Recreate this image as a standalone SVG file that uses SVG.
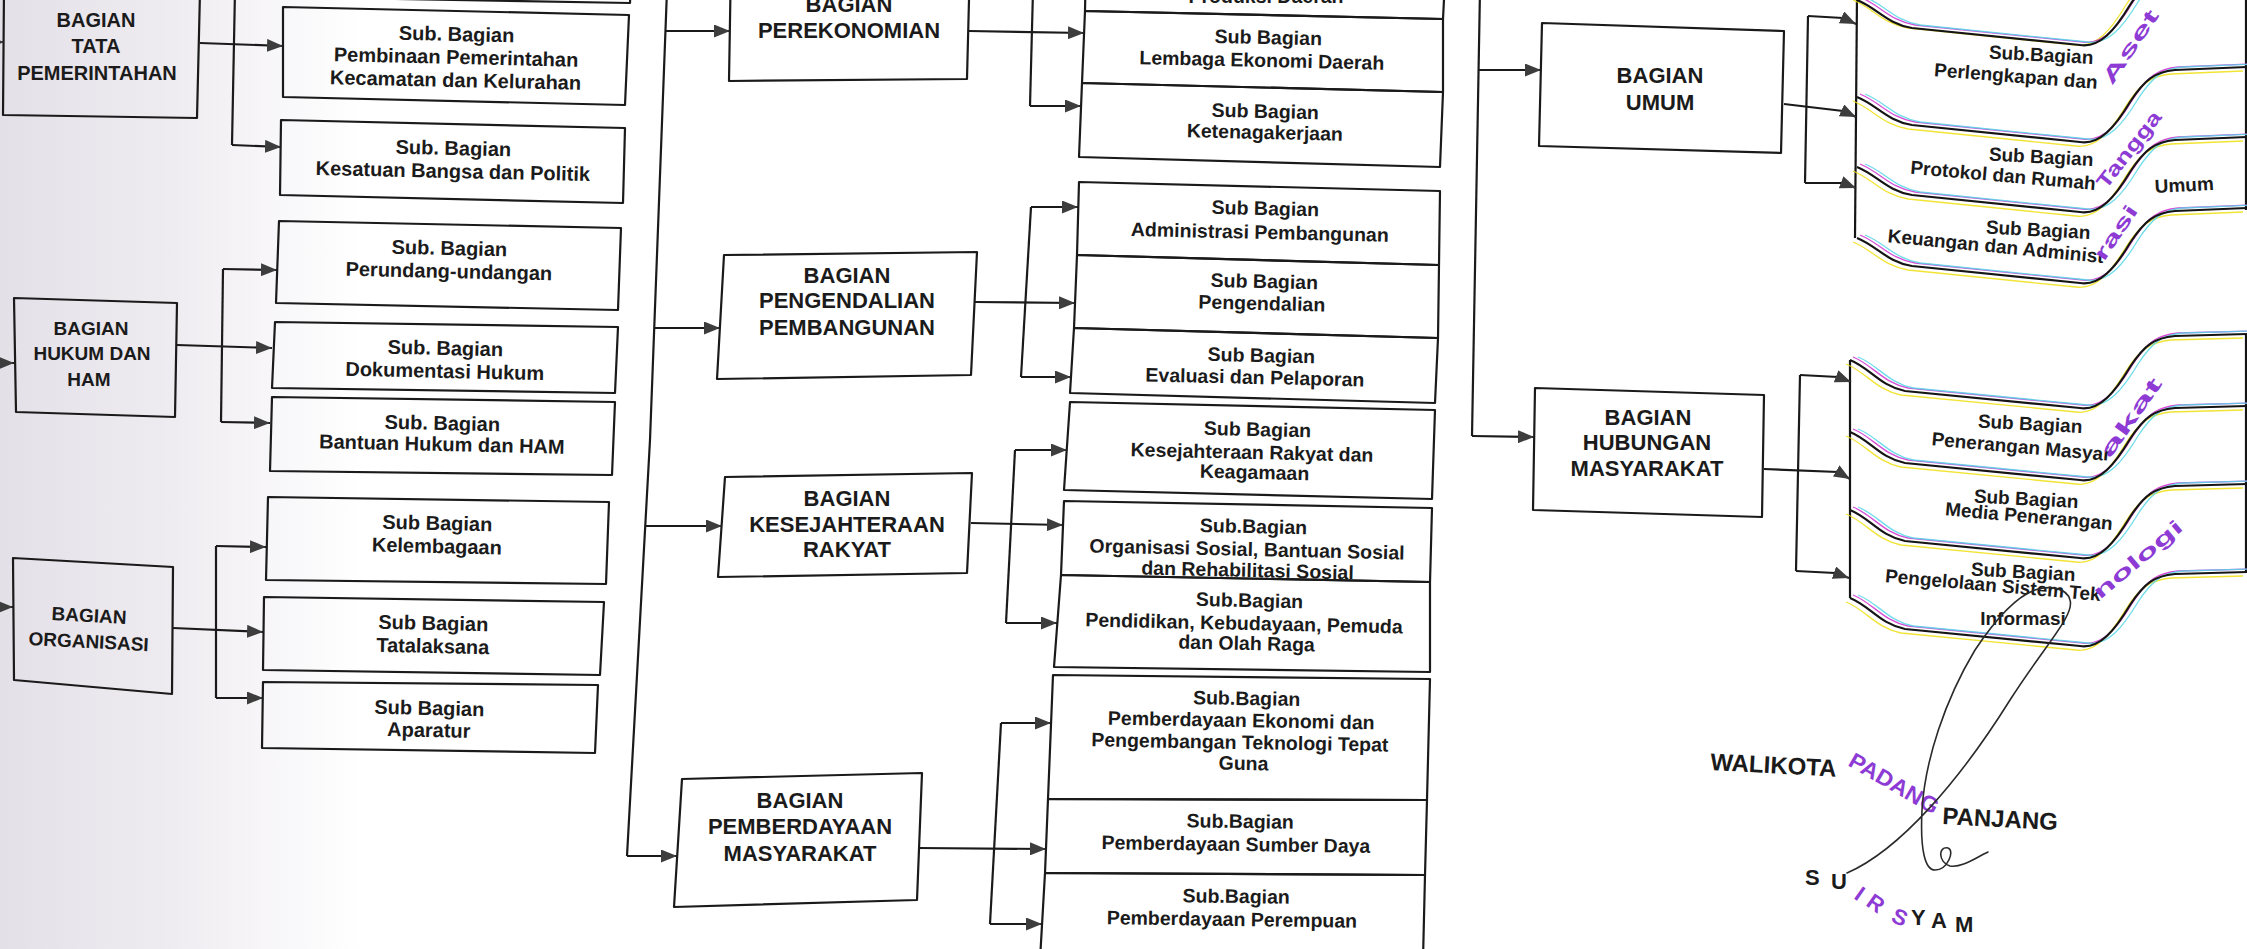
<svg xmlns="http://www.w3.org/2000/svg" width="2247" height="949" viewBox="0 0 2247 949">
<style>
.box{fill:none;stroke:#1a1a1a;stroke-width:2.2;stroke-linejoin:round}
.ln{fill:none;stroke:#1a1a1a;stroke-width:2.2}
.ar{marker-end:url(#ah)}
.t{font-family:"Liberation Sans",Arial,sans-serif;font-weight:bold;fill:#1b1b1b;text-anchor:middle}
.te{text-anchor:end}
.ts{text-anchor:start}
.f19{font-size:19px}.f195{font-size:19.5px}.f20{font-size:20px}.f22{font-size:22px}.f24{font-size:24px}
.dist{fill:#8d3bd4}
.wv{fill:none;stroke:#151515;stroke-width:2.2}
.cy{fill:none;stroke:#55d6e6;stroke-width:1.3;opacity:0.85}
.mg{fill:none;stroke:#cf2fcf;stroke-width:1.3;opacity:0.85}
.yl{fill:none;stroke:#f0df10;stroke-width:1.3;opacity:0.85}
.sig{fill:none;stroke:#2a2a2a;stroke-width:1.6;stroke-linecap:round}
</style>
<defs>
<marker id="ah" viewBox="0 0 16 13" refX="16" refY="6.5" markerWidth="16" markerHeight="13" markerUnits="userSpaceOnUse" orient="auto"><path d="M0,0 L16,6.5 L0,13 z" fill="#3d3d3d"/></marker>
<linearGradient id="shade" x1="0" y1="0" x2="1" y2="0"><stop offset="0" stop-color="#e4e0e8"/><stop offset="0.45" stop-color="#eeebf0"/><stop offset="1" stop-color="#ffffff"/></linearGradient>
<path id="wu" d="M1857,0 C1877,8 1887,24 1912,28 L2080,45 C2100,48 2115,30 2130,5 C2145,-18 2155,-25 2175,-27 L2247,-30"/>
<path id="wh" d="M1850,0 C1870,8 1880,26 1905,31 L2080,48 C2100,51 2115,32 2130,7 C2145,-16 2155,-22 2175,-24 L2247,-26"/>
</defs>
<rect x="0" y="0" width="2247" height="949" fill="#ffffff"/>
<rect x="0" y="0" width="360" height="949" fill="url(#shade)"/>

<!-- Column A -->
<g id="bagian-tata-pemerintahan">
<polygon class="box" points="4,-12 200,-8 197,118 3,115"/>
<text class="t f20" x="96" y="27">BAGIAN</text>
<text class="t f20" x="96" y="53">TATA</text>
<text class="t f20" x="97" y="80">PEMERINTAHAN</text>
</g>
<g id="bagian-hukum-ham">
<polygon class="box" points="14,298 177,303 175,417 16,412"/>
<text class="t f19" x="91" y="335">BAGIAN</text>
<text class="t f19" x="92" y="360">HUKUM DAN</text>
<text class="t f19" x="89" y="386">HAM</text>
</g>
<g id="bagian-organisasi">
<polygon class="box" points="13,558 173,567 172,694 14,680"/>
<g transform="rotate(3 88 635)">
<text class="t f19" x="88" y="622">BAGIAN</text>
<text class="t f19" x="89" y="648">ORGANISASI</text>
</g>
</g>

<!-- Column B -->
<g id="sub-top-b"><polygon class="box" points="288,-60 632,-52 630,3 286,-3"/></g>
<g id="sub-pembinaan">
<polygon class="box" points="283,7 629,15 625,105 283,97"/>
<g transform="rotate(1.3 456 60)">
<text class="t f20" x="456" y="41">Sub. Bagian</text>
<text class="t f20" x="456" y="64">Pembinaan Pemerintahan</text>
<text class="t f20" x="456" y="87">Kecamatan dan Kelurahan</text>
</g>
</g>
<g id="sub-kesatuan">
<polygon class="box" points="281,120 625,128 623,203 280,195"/>
<g transform="rotate(1.3 453 165)">
<text class="t f20" x="453" y="155">Sub. Bagian</text>
<text class="t f20" x="453" y="178">Kesatuan Bangsa dan Politik</text>
</g>
</g>
<g id="sub-perundang">
<polygon class="box" points="279,221 621,228 618,310 276,303"/>
<g transform="rotate(1.3 449 265)">
<text class="t f20" x="449" y="255">Sub. Bagian</text>
<text class="t f20" x="449" y="278">Perundang-undangan</text>
</g>
</g>
<g id="sub-dokumentasi">
<polygon class="box" points="275,322 618,327 615,393 272,388"/>
<g transform="rotate(1.3 445 362)">
<text class="t f20" x="445" y="355">Sub. Bagian</text>
<text class="t f20" x="445" y="378">Dokumentasi Hukum</text>
</g>
</g>
<g id="sub-bantuan">
<polygon class="box" points="272,397 615,402 612,475 270,471"/>
<g transform="rotate(1.3 442 438)">
<text class="t f20" x="442" y="430">Sub. Bagian</text>
<text class="t f20" x="442" y="451">Bantuan Hukum dan HAM</text>
</g>
</g>
<g id="sub-kelembagaan">
<polygon class="box" points="268,497 609,502 606,584 266,580"/>
<g transform="rotate(1.3 437 540)">
<text class="t f20" x="437" y="530">Sub Bagian</text>
<text class="t f20" x="437" y="553">Kelembagaan</text>
</g>
</g>
<g id="sub-tatalaksana">
<polygon class="box" points="264,597 604,602 600,675 263,670"/>
<g transform="rotate(1.3 433 640)">
<text class="t f20" x="433" y="630">Sub Bagian</text>
<text class="t f20" x="433" y="653">Tatalaksana</text>
</g>
</g>
<g id="sub-aparatur">
<polygon class="box" points="263,682 598,685 595,753 262,748"/>
<g transform="rotate(1.3 429 722)">
<text class="t f20" x="429" y="715">Sub Bagian</text>
<text class="t f20" x="429" y="737">Aparatur</text>
</g>
</g>

<!-- Column C -->
<g id="bagian-perekonomian">
<polygon class="box" points="731,-40 970,-40 967,79 729,81"/>
<text class="t f22" x="849" y="12">BAGIAN</text>
<text class="t f22" x="849" y="38">PEREKONOMIAN</text>
</g>
<g id="bagian-pengendalian">
<polygon class="box" points="724,255 977,252 971,375 717,379"/>
<text class="t f22" x="847" y="283">BAGIAN</text>
<text class="t f22" x="847" y="308">PENGENDALIAN</text>
<text class="t f22" x="847" y="335">PEMBANGUNAN</text>
</g>
<g id="bagian-kesejahteraan">
<polygon class="box" points="725,477 972,473 967,573 718,577"/>
<text class="t f22" x="847" y="506">BAGIAN</text>
<text class="t f22" x="847" y="532">KESEJAHTERAAN</text>
<text class="t f22" x="847" y="557">RAKYAT</text>
</g>
<g id="bagian-pemberdayaan">
<polygon class="box" points="682,779 922,773 917,900 674,907"/>
<text class="t f22" x="800" y="808">BAGIAN</text>
<text class="t f22" x="800" y="834">PEMBERDAYAAN</text>
<text class="t f22" x="800" y="861">MASYARAKAT</text>
</g>

<!-- Column D -->
<g id="sub-produksi">
<polygon class="box" points="1086,-40 1446,-40 1443,19 1085,11"/>
<text class="t f195" x="1266" y="3">Produksi Daerah</text>
</g>
<g id="sub-lembaga-ekonomi">
<polygon class="box" points="1085,11 1443,19 1443,92 1082,83"/>
<g transform="rotate(1.3 1264 52)">
<text class="t f195" x="1268" y="44">Sub Bagian</text>
<text class="t f195" x="1262" y="67">Lembaga Ekonomi Daerah</text>
</g>
</g>
<g id="sub-ketenagakerjaan">
<polygon class="box" points="1082,83 1443,92 1440,167 1079,157"/>
<g transform="rotate(1.3 1264 125)">
<text class="t f195" x="1265" y="118">Sub Bagian</text>
<text class="t f195" x="1265" y="139">Ketenagakerjaan</text>
</g>
</g>
<g id="sub-administrasi">
<polygon class="box" points="1079,182 1440,191 1439,265 1077,255"/>
<g transform="rotate(1.3 1262 225)">
<text class="t f195" x="1265" y="215">Sub Bagian</text>
<text class="t f195" x="1260" y="239">Administrasi Pembangunan</text>
</g>
</g>
<g id="sub-pengendalian">
<polygon class="box" points="1077,255 1439,265 1438,338 1074,328"/>
<g transform="rotate(1.3 1262 298)">
<text class="t f195" x="1264" y="288">Sub Bagian</text>
<text class="t f195" x="1262" y="310">Pengendalian</text>
</g>
</g>
<g id="sub-evaluasi">
<polygon class="box" points="1074,328 1438,338 1435,403 1070,393"/>
<g transform="rotate(1.3 1258 372)">
<text class="t f195" x="1261" y="362">Sub Bagian</text>
<text class="t f195" x="1255" y="384">Evaluasi dan Pelaporan</text>
</g>
</g>
<g id="sub-kesra-keagamaan">
<polygon class="box" points="1070,402 1435,410 1432,499 1064,490"/>
<g transform="rotate(1.3 1254 452)">
<text class="t f195" x="1257" y="436">Sub Bagian</text>
<text class="t f195" x="1252" y="459">Kesejahteraan Rakyat dan</text>
<text class="t f195" x="1255" y="479">Keagamaan</text>
</g>
</g>
<g id="sub-organisasi-sosial">
<polygon class="box" points="1064,501 1432,508 1430,582 1061,575"/>
<g transform="rotate(1.3 1249 550)">
<text class="t f195" x="1253" y="533">Sub.Bagian</text>
<text class="t f195" x="1247" y="556">Organisasi Sosial, Bantuan Sosial</text>
<text class="t f195" x="1248" y="577">dan Rehabilitasi Sosial</text>
</g>
</g>
<g id="sub-pendidikan">
<polygon class="box" points="1061,575 1430,582 1430,672 1054,667"/>
<g transform="rotate(1.3 1246 625)">
<text class="t f195" x="1249" y="607">Sub.Bagian</text>
<text class="t f195" x="1244" y="630">Pendidikan, Kebudayaan, Pemuda</text>
<text class="t f195" x="1247" y="650">dan Olah Raga</text>
</g>
</g>
<g id="sub-ekonomi-ttg">
<polygon class="box" points="1053,675 1430,679 1427,800 1048,799"/>
<g transform="rotate(1 1242 735)">
<text class="t f195" x="1246" y="705">Sub.Bagian</text>
<text class="t f195" x="1241" y="727">Pemberdayaan Ekonomi dan</text>
<text class="t f195" x="1240" y="749">Pengembangan Teknologi Tepat</text>
<text class="t f195" x="1244" y="770">Guna</text>
</g>
</g>
<g id="sub-sumber-daya">
<polygon class="box" points="1048,799 1427,800 1425,875 1045,873"/>
<g transform="rotate(0.8 1238 840)">
<text class="t f195" x="1240" y="828">Sub.Bagian</text>
<text class="t f195" x="1236" y="851">Pemberdayaan Sumber Daya</text>
</g>
</g>
<g id="sub-perempuan">
<polygon class="box" points="1045,873 1425,875 1423,960 1040,960"/>
<g transform="rotate(0.8 1234 912)">
<text class="t f195" x="1236" y="903">Sub.Bagian</text>
<text class="t f195" x="1232" y="926">Pemberdayaan Perempuan</text>
</g>
</g>

<!-- Right column -->
<g id="bagian-umum">
<polygon class="box" points="1542,23 1784,31 1781,153 1539,146"/>
<text class="t f22" x="1660" y="83">BAGIAN</text>
<text class="t f22" x="1660" y="110">UMUM</text>
</g>
<g id="bagian-humas">
<polygon class="box" points="1535,388 1764,395 1762,517 1533,510"/>
<text class="t f22" x="1648" y="425">BAGIAN</text>
<text class="t f22" x="1647" y="450">HUBUNGAN</text>
<text class="t f22" x="1647" y="476">MASYARAKAT</text>
</g>

<g id="umum-subs-frame">
<path class="wv" d="M1857,-5 L1855,238"/>
<path class="wv" d="M2246,-5 L2246,210"/>
</g>
<g id="sub-perlengkapan">
<use href="#wu" y="0" class="yl" x="-4"/><use href="#wu" y="-3" class="mg" x="3"/><use href="#wu" y="-3" class="cy" x="8"/>
<use href="#wu" y="0" class="wv"/>
<text class="t te f19" x="2093" y="64" transform="rotate(3 2093 64)">Sub.Bagian</text>
<text class="t te f19" x="2097" y="89" transform="rotate(4.5 2097 89)">Perlengkapan dan</text>
<text class="t ts f20 dist" x="2112" y="86" transform="rotate(-56 2112 86)" textLength="85" lengthAdjust="spacingAndGlyphs">Aset</text>
</g>
<g id="sub-protokol">
<use href="#wu" y="101" class="yl" x="-4"/><use href="#wu" y="94" class="mg" x="3"/><use href="#wu" y="94" class="cy" x="8"/>
<use href="#wu" y="97" class="wv"/>
<text class="t te f19" x="2093" y="166" transform="rotate(3 2093 166)">Sub Bagian</text>
<text class="t te f19" x="2095" y="190" transform="rotate(5 2095 190)">Protokol dan Rumah</text>
<text class="t ts f20 dist" x="2106" y="190" transform="rotate(-52 2106 190)" textLength="92" lengthAdjust="spacingAndGlyphs">Tangga</text>
</g>
<g id="sub-keuangan">
<use href="#wu" y="171" class="yl" x="-4"/><use href="#wu" y="164" class="mg" x="3"/><use href="#wu" y="164" class="cy" x="8"/>
<use href="#wu" y="167" class="wv"/>
<text class="t te f19" x="2090" y="239" transform="rotate(3 2090 239)">Sub Bagian</text>
<text class="t te f19" x="2103" y="263" transform="rotate(5.5 2103 263)">Keuangan dan Administ</text>
<text class="t ts f20 dist" x="2104" y="262" transform="rotate(-56 2104 262)" textLength="62" lengthAdjust="spacingAndGlyphs">rasi</text>
<text class="t ts f19" x="2155" y="193" transform="rotate(-3 2155 193)">Umum</text>
<use href="#wu" y="242" class="yl" x="-4"/><use href="#wu" y="235" class="mg" x="3"/><use href="#wu" y="235" class="cy" x="8"/>
<use href="#wu" y="238" class="wv"/>
</g>

<g id="humas-subs-frame">
<path class="wv" d="M1850,360 L1850,598"/>
<path class="wv" d="M2246,334 L2246,572"/>
</g>
<g id="sub-penerangan">
<use href="#wh" y="364" class="yl" x="-4"/><use href="#wh" y="357" class="mg" x="3"/><use href="#wh" y="357" class="cy" x="8"/>
<use href="#wh" y="360" class="wv"/>
<text class="t te f19" x="2082" y="433" transform="rotate(3 2082 433)">Sub Bagian</text>
<text class="t te f19" x="2110" y="461" transform="rotate(5 2110 461)">Penerangan Masyar</text>
<text class="t ts f20 dist" x="2110" y="459" transform="rotate(-55 2110 459)" textLength="92" lengthAdjust="spacingAndGlyphs">akat</text>
</g>
<g id="sub-media">
<use href="#wh" y="436" class="yl" x="-4"/><use href="#wh" y="429" class="mg" x="3"/><use href="#wh" y="429" class="cy" x="8"/>
<use href="#wh" y="432" class="wv"/>
<text class="t te f19" x="2078" y="508" transform="rotate(3 2078 508)">Sub Bagian</text>
<text class="t te f19" x="2112" y="530" transform="rotate(5 2112 530)">Media Penerangan</text>
</g>
<g id="sub-pengelolaan-sti">
<use href="#wh" y="514" class="yl" x="-4"/><use href="#wh" y="507" class="mg" x="3"/><use href="#wh" y="507" class="cy" x="8"/>
<use href="#wh" y="510" class="wv"/>
<text class="t te f19" x="2075" y="581" transform="rotate(3 2075 581)">Sub Bagian</text>
<text class="t te f19" x="2100" y="601" transform="rotate(5 2100 601)">Pengelolaan Sistem Tek</text>
<text class="t ts f20 dist" x="2100" y="600" transform="rotate(-40 2100 600)" textLength="110" lengthAdjust="spacingAndGlyphs">nologi</text>
<text class="t f19" x="2023" y="625">Informasi</text>
<use href="#wh" y="602" class="yl" x="-4"/><use href="#wh" y="595" class="mg" x="3"/><use href="#wh" y="595" class="cy" x="8"/>
<use href="#wh" y="598" class="wv"/>
</g>

<!-- Connectors -->
<g id="connectors">
<path class="ln ar" d="M-30,42 L4,42"/>
<path class="ln ar" d="M-30,363 L14,363"/>
<path class="ln ar" d="M-30,607 L13,607"/>

<path class="ln ar" d="M200,43 L283,46"/>
<path class="ln" d="M235,-10 L232,145"/>
<path class="ln ar" d="M232,145 L281,147"/>

<path class="ln ar" d="M177,345 L272,348"/>
<path class="ln" d="M223,269 L221,422"/>
<path class="ln ar" d="M223,269 L277,270"/>
<path class="ln ar" d="M221,422 L270,423"/>

<path class="ln ar" d="M173,628 L263,632"/>
<path class="ln" d="M216,546 L216,698"/>
<path class="ln ar" d="M216,546 L266,547"/>
<path class="ln ar" d="M216,698 L263,698"/>

<path class="ln" d="M667,-10 L650,440 L627,856"/>
<path class="ln ar" d="M666,31 L730,31"/>
<path class="ln ar" d="M654,328 L720,328"/>
<path class="ln ar" d="M645,526 L722,526"/>
<path class="ln ar" d="M627,856 L677,856"/>

<path class="ln ar" d="M969,31 L1084,33"/>
<path class="ln" d="M1033,-10 L1030,106"/>
<path class="ln ar" d="M1030,106 L1081,106"/>

<path class="ln ar" d="M975,302 L1075,303"/>
<path class="ln" d="M1031,207 L1021,377"/>
<path class="ln ar" d="M1031,207 L1078,207"/>
<path class="ln ar" d="M1021,377 L1071,377"/>

<path class="ln ar" d="M971,523 L1063,525"/>
<path class="ln" d="M1015,450 L1006,623"/>
<path class="ln ar" d="M1015,450 L1067,450"/>
<path class="ln ar" d="M1006,623 L1057,623"/>

<path class="ln ar" d="M919,848 L1046,849"/>
<path class="ln" d="M1001,723 L990,924"/>
<path class="ln ar" d="M1001,723 L1051,723"/>
<path class="ln ar" d="M990,924 L1042,924"/>

<path class="ln" d="M1480,-10 L1472,436"/>
<path class="ln ar" d="M1479,70 L1541,70"/>
<path class="ln ar" d="M1472,436 L1534,437"/>

<path class="ln" d="M1808,16 L1805,183"/>
<path class="ln ar" d="M1808,16 L1843,18 L1856,24"/>
<path class="ln ar" d="M1784,104 L1843,111 L1856,117"/>
<path class="ln ar" d="M1805,183 L1843,183 L1856,188"/>

<path class="ln" d="M1800,375 L1796,571"/>
<path class="ln ar" d="M1800,375 L1838,377 L1851,382"/>
<path class="ln ar" d="M1764,469 L1838,472 L1850,479"/>
<path class="ln ar" d="M1796,571 L1835,573 L1849,578"/>
</g>

<!-- Signature block -->
<g id="signature">
<text class="t ts f24" x="1710" y="770" transform="rotate(3 1710 770)">WALIKOTA</text>
<text class="t ts f22 dist" x="1847" y="765" transform="rotate(30 1847 765)" textLength="100" lengthAdjust="spacingAndGlyphs">PADANG</text>
<text class="t ts f24" x="1942" y="824" transform="rotate(3 1942 824)">PANJANG</text>
<text class="t ts f22" rotate="0 0 35 35 0 25 0 0 0"><tspan x="1805" y="885">S</tspan><tspan x="1831" y="889">U</tspan><tspan x="1853" y="898" class="dist">I</tspan><tspan x="1865" y="905" class="dist">R</tspan><tspan x="1880" y="915"> </tspan><tspan x="1890" y="921" class="dist">S</tspan><tspan x="1911" y="925">Y</tspan><tspan x="1931" y="928">A</tspan><tspan x="1955" y="932">M</tspan></text>
<path class="sig" d="M1847,873 C1900,850 1960,780 2010,700 C2045,645 2075,615 2070,600 C2067,588 2050,585 2035,590 C2015,597 1995,620 1975,650 C1945,700 1925,760 1922,810 C1920,850 1925,870 1935,870 C1948,870 1955,850 1948,848 C1938,846 1938,862 1950,866 C1962,868 1975,858 1988,852"/>
</g>
</svg>
